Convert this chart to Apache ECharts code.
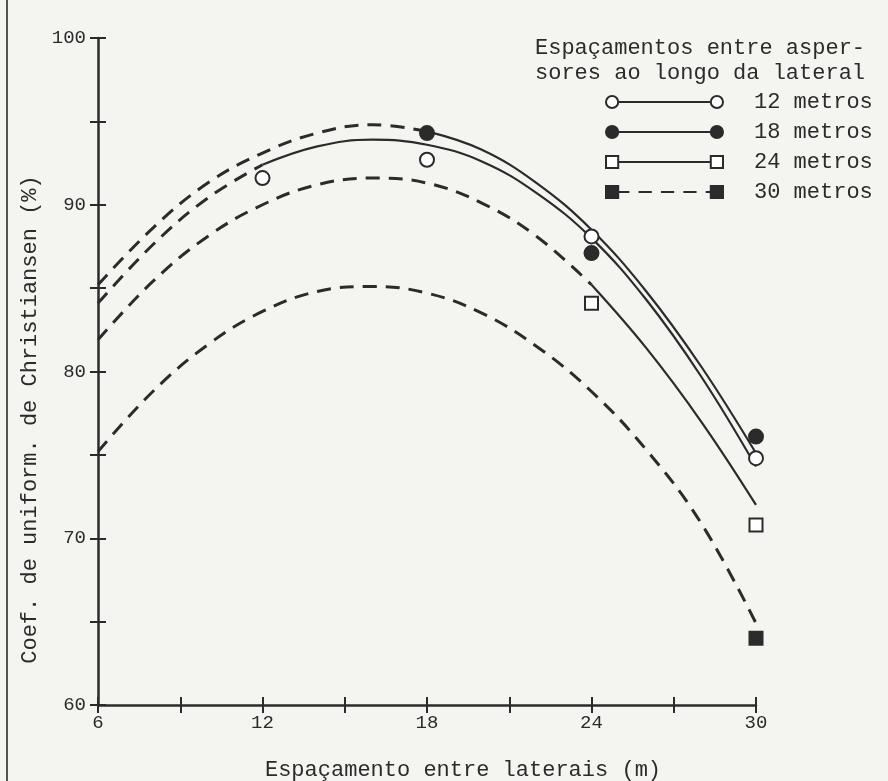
<!doctype html>
<html lang="pt">
<head>
<meta charset="UTF-8" />
<title>Coef. de uniformidade x espaçamento</title>
<script src="https://cdn.jsdelivr.net/npm/echarts@6/dist/echarts.min.js"></script>
<style>
  html, body { margin: 0; padding: 0; background: #f4f4f0; }
  #chart { width: 888px; height: 781px; }
</style>
</head>
<body>
<div id="chart"></div>
<script type="text/javascript">
// curvas ajustadas (x = espaçamento entre laterais)
var xs = [6, 8, 10, 12, 14, 16, 18, 20, 22, 24, 26, 28, 30];
var curve12 = [84.1, 87.6, 90.4, 92.4, 93.5, 93.9, 93.6, 92.6, 90.7, 88.0, 84.3, 79.7, 74.3];
var curve18 = [85.2, 88.6, 91.3, 93.1, 94.3, 94.8, 94.4, 93.3, 91.3, 88.5, 84.8, 80.3, 75.1];
var curve24 = [81.9, 85.4, 88.1, 90.0, 91.2, 91.6, 91.3, 90.1, 88.1, 85.2, 81.4, 77.0, 72.0];
var curve30 = [75.2, 78.8, 81.6, 83.6, 84.8, 85.1, 84.7, 83.5, 81.5, 78.8, 75.3, 70.9, 64.9];

// pontos observados
var obsX = [12, 18, 24, 30];
var obs12 = [91.6, 92.7, 88.1, 74.8];
var obs18 = [null, 94.3, 87.1, 76.1];
var obs24 = [null, null, 84.1, 70.8];
var obs30 = [null, null, null, 64.0];

var names = ['12 metros', '18 metros', '24 metros', '30 metros'];
var INK = '#2b2b2b';
var FONT = 'Liberation Mono';

var chart = echarts.init(document.getElementById('chart'));

function part(vals, from, to) {
    var out = [];
    for (var i = from; i <= to; i++) out.push([xs[i], vals[i]]);
    return out;
}
function points(vals) {
    var out = [];
    for (var i = 0; i < obsX.length; i++) {
        if (vals[i] != null) out.push([obsX[i], vals[i]]);
    }
    return out;
}

var groups = [
    { name: names[0], curve: curve12, obs: obs12, solidFrom: 3, symbol: 'circle', fill: '#fff' },
    { name: names[1], curve: curve18, obs: obs18, solidFrom: 6, symbol: 'circle', fill: INK },
    { name: names[2], curve: curve24, obs: obs24, solidFrom: 9, symbol: 'rect', fill: '#fff' },
    { name: names[3], curve: curve30, obs: obs30, solidFrom: null, symbol: 'rect', fill: INK }
];

var series = [];
groups.forEach(function (g) {
    series.push({
        name: g.name, type: 'scatter', data: points(g.obs), z: 5,
        symbol: g.symbol, symbolSize: g.symbol == 'circle' ? 14 : 13,
        itemStyle: { color: g.fill, borderColor: INK, borderWidth: 2, opacity: 1 }
    });
});
groups.forEach(function (g) {
    var end = g.solidFrom == null ? xs.length - 1 : g.solidFrom;
    series.push({
        name: g.name, type: 'line', smooth: 0.4, showSymbol: false, z: 2,
        data: part(g.curve, 0, end),
        lineStyle: { color: INK, width: 3, type: [14, 9] }
    });
    if (g.solidFrom != null) {
        series.push({
            name: g.name, type: 'line', smooth: 0.4, showSymbol: false, z: 3,
            data: part(g.curve, g.solidFrom, xs.length - 1),
            lineStyle: { color: INK, width: 2.2 }
        });
    }
});

// icones da legenda: marcador - linha - marcador
var iconCircle = 'path://M1,7A6,6,0,1,1,13,7A6,6,0,1,1,1,7ZM13,7L104,7M104,7A6,6,0,1,1,116,7A6,6,0,1,1,104,7Z';
var iconSquare = 'path://M1,1L13,1L13,13L1,13ZM13,7L104,7M104,1L116,1L116,13L104,13Z';
var iconSquareDash = 'path://M1,1L13,1L13,13L1,13ZM13,7L24,7M33,7L46,7M55,7L68,7M77,7L90,7M99,7L104,7M104,1L116,1L116,13L104,13Z';

var axisText = { color: INK, fontFamily: FONT, fontSize: 19 };

var option = {
    backgroundColor: '#f4f4f0',
    animation: false,
    title: {
        text: 'Espaçamentos entre asper-\nsores ao longo da lateral',
        left: 530, top: 31,
        textStyle: { color: INK, fontFamily: FONT, fontSize: 22, fontWeight: 'normal', lineHeight: 25 }
    },
    legend: {
        orient: 'vertical', left: 600, top: 86,
        itemWidth: 117, itemHeight: 14, itemGap: 8,
        textStyle: { color: INK, fontFamily: FONT, fontSize: 22, padding: [0, 0, 0, 26] },
        data: [
            { name: names[0], icon: iconCircle, itemStyle: { color: '#fff', borderColor: INK, borderWidth: 2 } },
            { name: names[1], icon: iconCircle, itemStyle: { color: INK, borderColor: INK, borderWidth: 2 } },
            { name: names[2], icon: iconSquare, itemStyle: { color: '#fff', borderColor: INK, borderWidth: 2 } },
            { name: names[3], icon: iconSquareDash, itemStyle: { color: INK, borderColor: INK, borderWidth: 2 } }
        ]
    },
    grid: { left: 98, right: 132, top: 38, bottom: 76, outerBoundsMode: 'none' },
    xAxis: [{
        type: 'value', min: 6, max: 30, interval: 3,
        name: 'Espaçamento entre laterais (m)', nameLocation: 'middle', nameGap: 54,
        nameTextStyle: { color: INK, fontFamily: FONT, fontSize: 22, padding: [0, 0, 0, 72] },
        axisLine: { lineStyle: { color: INK, width: 2.5 } },
        axisTick: { length: 8, lineStyle: { color: INK, width: 2 } },
        axisLabel: Object.assign({ margin: 8, formatter: function (v) { return v % 6 == 0 ? v : ''; } }, axisText),
        splitLine: { show: false }
    }, {
        type: 'value', min: 6, max: 30, interval: 3, position: 'bottom',
        axisLine: { show: false },
        axisTick: { inside: true, length: 8, lineStyle: { color: INK, width: 2 } },
        axisLabel: { show: false }, splitLine: { show: false }
    }],
    yAxis: [{
        type: 'value', min: 60, max: 100, interval: 5,
        name: 'Coef. de uniform. de Christiansen (%)', nameLocation: 'middle', nameGap: 56, nameRotate: 90,
        nameTextStyle: { color: INK, fontFamily: FONT, fontSize: 22, padding: [0, 96, 0, 0] },
        axisLine: { lineStyle: { color: INK, width: 2.5 } },
        axisTick: { length: 8, lineStyle: { color: INK, width: 2 } },
        axisLabel: Object.assign({ margin: 12, formatter: function (v) { return v % 10 == 0 ? v : ''; } }, axisText),
        splitLine: { show: false }
    }, {
        type: 'value', min: 60, max: 100, interval: 5, position: 'left',
        axisLine: { show: false },
        axisTick: { inside: true, length: 8, lineStyle: { color: INK, width: 2 } },
        axisLabel: { show: false }, splitLine: { show: false }
    }],
    graphic: [{
        type: 'rect', shape: { x: 6, y: 0, width: 2, height: 781 },
        style: { fill: '#555' }, silent: true
    }],
    series: series
};

chart.setOption(option);
</script>
</body>
</html>
